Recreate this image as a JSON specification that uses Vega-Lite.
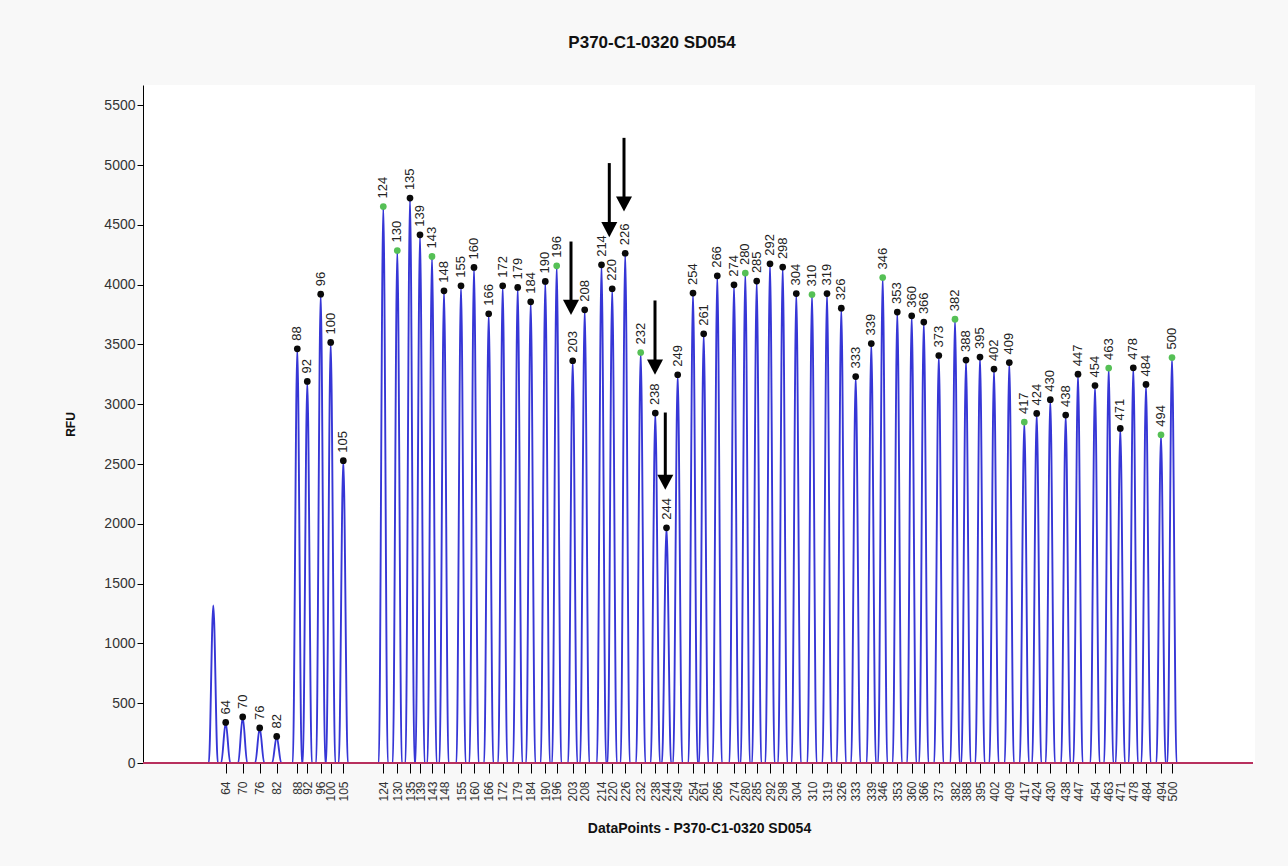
{
  "$schema": "https://vega.github.io/schema/vega-lite/v6.json",
  "width": 1112,
  "height": 678,
  "autosize": {"type": "none"},
  "padding": {"left": 143, "top": 85, "right": 33, "bottom": 103},
  "background": "#f8f8f8",
  "view": {"fill": "white", "stroke": null},
  "title": {"text": "P370-C1-0320 SD054", "font": "Liberation Sans", "fontSize": 17, "fontWeight": "bold", "color": "#111111", "offset": 33, "dx": -47},
  "datasets": {
    "trace": [
      {"dp":0,"rfu":0},
      {"dp":658,"rfu":0},{"dp":703,"rfu":1318},{"dp":748,"rfu":0},
      {"dp":782,"rfu":0},{"dp":827,"rfu":339},{"dp":872,"rfu":0},
      {"dp":952,"rfu":0},{"dp":997,"rfu":385},{"dp":1042,"rfu":0},
      {"dp":1122,"rfu":0},{"dp":1167,"rfu":293},{"dp":1212,"rfu":0},
      {"dp":1292,"rfu":0},{"dp":1337,"rfu":222},{"dp":1382,"rfu":0},
      {"dp":1498,"rfu":0},{"dp":1543,"rfu":3464},{"dp":1588,"rfu":0},
      {"dp":1598,"rfu":0},{"dp":1643,"rfu":3191},{"dp":1688,"rfu":0},
      {"dp":1732,"rfu":0},{"dp":1777,"rfu":3921},{"dp":1822,"rfu":0},
      {"dp":1832,"rfu":0},{"dp":1877,"rfu":3517},{"dp":1922,"rfu":0},
      {"dp":1958,"rfu":0},{"dp":2003,"rfu":2528},{"dp":2048,"rfu":0},
      {"dp":2358,"rfu":0},{"dp":2403,"rfu":4654},{"dp":2448,"rfu":0},
      {"dp":2498,"rfu":0},{"dp":2543,"rfu":4286},{"dp":2588,"rfu":0},
      {"dp":2625,"rfu":0},{"dp":2670,"rfu":4724},{"dp":2715,"rfu":0},
      {"dp":2725,"rfu":0},{"dp":2770,"rfu":4417},{"dp":2815,"rfu":0},
      {"dp":2845,"rfu":0},{"dp":2890,"rfu":4236},{"dp":2935,"rfu":0},
      {"dp":2965,"rfu":0},{"dp":3010,"rfu":3949},{"dp":3055,"rfu":0},
      {"dp":3135,"rfu":0},{"dp":3180,"rfu":3991},{"dp":3225,"rfu":0},
      {"dp":3265,"rfu":0},{"dp":3310,"rfu":4144},{"dp":3355,"rfu":0},
      {"dp":3412,"rfu":0},{"dp":3457,"rfu":3757},{"dp":3502,"rfu":0},
      {"dp":3552,"rfu":0},{"dp":3597,"rfu":3991},{"dp":3642,"rfu":0},
      {"dp":3702,"rfu":0},{"dp":3747,"rfu":3977},{"dp":3792,"rfu":0},
      {"dp":3832,"rfu":0},{"dp":3877,"rfu":3857},{"dp":3922,"rfu":0},
      {"dp":3978,"rfu":0},{"dp":4023,"rfu":4027},{"dp":4068,"rfu":0},
      {"dp":4092,"rfu":0},{"dp":4137,"rfu":4158},{"dp":4182,"rfu":0},
      {"dp":4252,"rfu":0},{"dp":4297,"rfu":3364},{"dp":4342,"rfu":0},
      {"dp":4372,"rfu":0},{"dp":4417,"rfu":3790},{"dp":4462,"rfu":0},
      {"dp":4540,"rfu":0},{"dp":4585,"rfu":4166},{"dp":4630,"rfu":0},
      {"dp":4647,"rfu":0},{"dp":4692,"rfu":3966},{"dp":4737,"rfu":0},
      {"dp":4777,"rfu":0},{"dp":4822,"rfu":4263},{"dp":4867,"rfu":0},
      {"dp":4932,"rfu":0},{"dp":4977,"rfu":3433},{"dp":5022,"rfu":0},
      {"dp":5078,"rfu":0},{"dp":5123,"rfu":2926},{"dp":5168,"rfu":0},
      {"dp":5190,"rfu":0},{"dp":5235,"rfu":1967},{"dp":5280,"rfu":0},
      {"dp":5302,"rfu":0},{"dp":5347,"rfu":3247},{"dp":5392,"rfu":0},
      {"dp":5455,"rfu":0},{"dp":5500,"rfu":3930},{"dp":5545,"rfu":0},
      {"dp":5562,"rfu":0},{"dp":5607,"rfu":3589},{"dp":5652,"rfu":0},
      {"dp":5698,"rfu":0},{"dp":5743,"rfu":4074},{"dp":5788,"rfu":0},
      {"dp":5865,"rfu":0},{"dp":5910,"rfu":3999},{"dp":5955,"rfu":0},
      {"dp":5978,"rfu":0},{"dp":6023,"rfu":4097},{"dp":6068,"rfu":0},
      {"dp":6092,"rfu":0},{"dp":6137,"rfu":4030},{"dp":6182,"rfu":0},
      {"dp":6225,"rfu":0},{"dp":6270,"rfu":4175},{"dp":6315,"rfu":0},
      {"dp":6352,"rfu":0},{"dp":6397,"rfu":4147},{"dp":6442,"rfu":0},
      {"dp":6488,"rfu":0},{"dp":6533,"rfu":3926},{"dp":6578,"rfu":0},
      {"dp":6645,"rfu":0},{"dp":6690,"rfu":3918},{"dp":6735,"rfu":0},
      {"dp":6795,"rfu":0},{"dp":6840,"rfu":3926},{"dp":6885,"rfu":0},
      {"dp":6938,"rfu":0},{"dp":6983,"rfu":3804},{"dp":7028,"rfu":0},
      {"dp":7082,"rfu":0},{"dp":7127,"rfu":3232},{"dp":7172,"rfu":0},
      {"dp":7238,"rfu":0},{"dp":7283,"rfu":3508},{"dp":7328,"rfu":0},
      {"dp":7352,"rfu":0},{"dp":7397,"rfu":4060},{"dp":7442,"rfu":0},
      {"dp":7498,"rfu":0},{"dp":7543,"rfu":3771},{"dp":7588,"rfu":0},
      {"dp":7642,"rfu":0},{"dp":7687,"rfu":3740},{"dp":7732,"rfu":0},
      {"dp":7763,"rfu":0},{"dp":7808,"rfu":3687},{"dp":7853,"rfu":0},
      {"dp":7913,"rfu":0},{"dp":7958,"rfu":3408},{"dp":8003,"rfu":0},
      {"dp":8075,"rfu":0},{"dp":8120,"rfu":3712},{"dp":8165,"rfu":0},
      {"dp":8185,"rfu":0},{"dp":8230,"rfu":3370},{"dp":8275,"rfu":0},
      {"dp":8325,"rfu":0},{"dp":8370,"rfu":3395},{"dp":8415,"rfu":0},
      {"dp":8465,"rfu":0},{"dp":8510,"rfu":3294},{"dp":8555,"rfu":0},
      {"dp":8618,"rfu":0},{"dp":8663,"rfu":3349},{"dp":8708,"rfu":0},
      {"dp":8768,"rfu":0},{"dp":8813,"rfu":2851},{"dp":8858,"rfu":0},
      {"dp":8892,"rfu":0},{"dp":8937,"rfu":2923},{"dp":8982,"rfu":0},
      {"dp":9028,"rfu":0},{"dp":9073,"rfu":3038},{"dp":9118,"rfu":0},
      {"dp":9182,"rfu":0},{"dp":9227,"rfu":2910},{"dp":9272,"rfu":0},
      {"dp":9305,"rfu":0},{"dp":9350,"rfu":3252},{"dp":9395,"rfu":0},
      {"dp":9475,"rfu":0},{"dp":9520,"rfu":3157},{"dp":9565,"rfu":0},
      {"dp":9612,"rfu":0},{"dp":9657,"rfu":3303},{"dp":9702,"rfu":0},
      {"dp":9728,"rfu":0},{"dp":9773,"rfu":2798},{"dp":9818,"rfu":0},
      {"dp":9858,"rfu":0},{"dp":9903,"rfu":3305},{"dp":9948,"rfu":0},
      {"dp":9985,"rfu":0},{"dp":10030,"rfu":3166},{"dp":10075,"rfu":0},
      {"dp":10135,"rfu":0},{"dp":10180,"rfu":2745},{"dp":10225,"rfu":0},
      {"dp":10245,"rfu":0},{"dp":10290,"rfu":3391},{"dp":10335,"rfu":0},
      {"dp":11100,"rfu":0}
    ],
    "base": [{"dp":0,"rfu":0},{"dp":11100,"rfu":0}],
    "peaks": [
      {"size":64,"dp":827,"rfu":339,"std":"black"},
      {"size":70,"dp":997,"rfu":385,"std":"black"},
      {"size":76,"dp":1167,"rfu":293,"std":"black"},
      {"size":82,"dp":1337,"rfu":222,"std":"black"},
      {"size":88,"dp":1543,"rfu":3464,"std":"black"},
      {"size":92,"dp":1643,"rfu":3191,"std":"black"},
      {"size":96,"dp":1777,"rfu":3921,"std":"black"},
      {"size":100,"dp":1877,"rfu":3517,"std":"black"},
      {"size":105,"dp":2003,"rfu":2528,"std":"black"},
      {"size":124,"dp":2403,"rfu":4654,"std":"green"},
      {"size":130,"dp":2543,"rfu":4286,"std":"green"},
      {"size":135,"dp":2670,"rfu":4724,"std":"black"},
      {"size":139,"dp":2770,"rfu":4417,"std":"black"},
      {"size":143,"dp":2890,"rfu":4236,"std":"green"},
      {"size":148,"dp":3010,"rfu":3949,"std":"black"},
      {"size":155,"dp":3180,"rfu":3991,"std":"black"},
      {"size":160,"dp":3310,"rfu":4144,"std":"black"},
      {"size":166,"dp":3457,"rfu":3757,"std":"black"},
      {"size":172,"dp":3597,"rfu":3991,"std":"black"},
      {"size":179,"dp":3747,"rfu":3977,"std":"black"},
      {"size":184,"dp":3877,"rfu":3857,"std":"black"},
      {"size":190,"dp":4023,"rfu":4027,"std":"black"},
      {"size":196,"dp":4137,"rfu":4158,"std":"green"},
      {"size":203,"dp":4297,"rfu":3364,"std":"black"},
      {"size":208,"dp":4417,"rfu":3790,"std":"black"},
      {"size":214,"dp":4585,"rfu":4166,"std":"black"},
      {"size":220,"dp":4692,"rfu":3966,"std":"black"},
      {"size":226,"dp":4822,"rfu":4263,"std":"black"},
      {"size":232,"dp":4977,"rfu":3433,"std":"green"},
      {"size":238,"dp":5123,"rfu":2926,"std":"black"},
      {"size":244,"dp":5235,"rfu":1967,"std":"black"},
      {"size":249,"dp":5347,"rfu":3247,"std":"black"},
      {"size":254,"dp":5500,"rfu":3930,"std":"black"},
      {"size":261,"dp":5607,"rfu":3589,"std":"black"},
      {"size":266,"dp":5743,"rfu":4074,"std":"black"},
      {"size":274,"dp":5910,"rfu":3999,"std":"black"},
      {"size":280,"dp":6023,"rfu":4097,"std":"green"},
      {"size":285,"dp":6137,"rfu":4030,"std":"black"},
      {"size":292,"dp":6270,"rfu":4175,"std":"black"},
      {"size":298,"dp":6397,"rfu":4147,"std":"black"},
      {"size":304,"dp":6533,"rfu":3926,"std":"black"},
      {"size":310,"dp":6690,"rfu":3918,"std":"green"},
      {"size":319,"dp":6840,"rfu":3926,"std":"black"},
      {"size":326,"dp":6983,"rfu":3804,"std":"black"},
      {"size":333,"dp":7127,"rfu":3232,"std":"black"},
      {"size":339,"dp":7283,"rfu":3508,"std":"black"},
      {"size":346,"dp":7397,"rfu":4060,"std":"green"},
      {"size":353,"dp":7543,"rfu":3771,"std":"black"},
      {"size":360,"dp":7687,"rfu":3740,"std":"black"},
      {"size":366,"dp":7808,"rfu":3687,"std":"black"},
      {"size":373,"dp":7958,"rfu":3408,"std":"black"},
      {"size":382,"dp":8120,"rfu":3712,"std":"green"},
      {"size":388,"dp":8230,"rfu":3370,"std":"black"},
      {"size":395,"dp":8370,"rfu":3395,"std":"black"},
      {"size":402,"dp":8510,"rfu":3294,"std":"black"},
      {"size":409,"dp":8663,"rfu":3349,"std":"black"},
      {"size":417,"dp":8813,"rfu":2851,"std":"green"},
      {"size":424,"dp":8937,"rfu":2923,"std":"black"},
      {"size":430,"dp":9073,"rfu":3038,"std":"black"},
      {"size":438,"dp":9227,"rfu":2910,"std":"black"},
      {"size":447,"dp":9350,"rfu":3252,"std":"black"},
      {"size":454,"dp":9520,"rfu":3157,"std":"black"},
      {"size":463,"dp":9657,"rfu":3303,"std":"green"},
      {"size":471,"dp":9773,"rfu":2798,"std":"black"},
      {"size":478,"dp":9903,"rfu":3305,"std":"black"},
      {"size":484,"dp":10030,"rfu":3166,"std":"black"},
      {"size":494,"dp":10180,"rfu":2745,"std":"green"},
      {"size":500,"dp":10290,"rfu":3391,"std":"green"}
    ],
    "arrows": [
      {"dp":4280,"top":4361,"head":3811},
      {"dp":4663,"top":5017,"head":4461},
      {"dp":4810,"top":5228,"head":4675},
      {"dp":5120,"top":3868,"head":3310},
      {"dp":5223,"top":2931,"head":2348}
    ]
  },
  "layer": [
    {
      "data": {"name": "trace"},
      "mark": {"type": "line", "color": "#3636d6", "strokeWidth": 1.9, "interpolate": "monotone"},
      "encoding": {
        "x": {
          "field": "dp", "type": "quantitative",
          "scale": {"domain": [0, 11120], "nice": false, "zero": false},
          "axis": {
            "title": "DataPoints - P370-C1-0320 SD054",
            "titleFont": "Liberation Sans", "titleFontSize": 14, "titleFontWeight": "bold", "titleColor": "#111111", "titlePadding": 20,
            "tickCount": 500,
            "values": [827,997,1167,1337,1543,1643,1777,1877,2003,2403,2543,2670,2770,2890,3010,3180,3310,3457,3597,3747,3877,4023,4137,4297,4417,4585,4692,4822,4977,5123,5235,5347,5500,5607,5743,5910,6023,6137,6270,6397,6533,6690,6840,6983,7127,7283,7397,7543,7687,7808,7958,8120,8230,8370,8510,8663,8813,8937,9073,9227,9350,9520,9657,9773,9903,10030,10180,10290],
            "labelExpr": "[64,70,76,82,88,92,96,100,105,124,130,135,139,143,148,155,160,166,172,179,184,190,196,203,208,214,220,226,232,238,244,249,254,261,266,274,280,285,292,298,304,310,319,326,333,339,346,353,360,366,373,382,388,395,402,409,417,424,430,438,447,454,463,471,478,484,494,500][indexof([827,997,1167,1337,1543,1643,1777,1877,2003,2403,2543,2670,2770,2890,3010,3180,3310,3457,3597,3747,3877,4023,4137,4297,4417,4585,4692,4822,4977,5123,5235,5347,5500,5607,5743,5910,6023,6137,6270,6397,6533,6690,6840,6983,7127,7283,7397,7543,7687,7808,7958,8120,8230,8370,8510,8663,8813,8937,9073,9227,9350,9520,9657,9773,9903,10030,10180,10290], datum.value)]",
            "labelAngle": 270, "labelFont": "Liberation Sans", "labelFontSize": 12, "labelColor": "#333333",
            "labelPadding": 8, "labelOverlap": false, "labelFlush": false,
            "tickColor": "#000000", "tickSize": 10, "domain": false, "grid": false
          }
        },
        "y": {
          "field": "rfu", "type": "quantitative",
          "scale": {"domain": [0, 5670], "nice": false},
          "axis": {
            "title": "RFU", "titleFont": "Liberation Sans", "titleFontSize": 12, "titleFontWeight": "bold", "titleColor": "#111111", "titlePadding": 26,
            "values": [0,500,1000,1500,2000,2500,3000,3500,4000,4500,5000,5500],
            "tickCount": 50,
            "format": "d",
            "labelFont": "Liberation Sans", "labelFontSize": 14, "labelColor": "#333333", "labelPadding": 2,
            "tickColor": "#000000", "tickSize": 6, "domainColor": "#000000", "grid": false
          }
        }
      }
    },
    {
      "data": {"name": "base"},
      "mark": {"type": "line", "color": "#b8305e", "strokeWidth": 2},
      "encoding": {
        "x": {"field": "dp", "type": "quantitative"},
        "y": {"field": "rfu", "type": "quantitative"}
      }
    },
    {
      "data": {"name": "peaks"},
      "mark": {"type": "circle", "size": 45, "opacity": 1},
      "encoding": {
        "x": {"field": "dp", "type": "quantitative"},
        "y": {"field": "rfu", "type": "quantitative"},
        "color": {"field": "std", "type": "nominal", "scale": {"domain": ["black", "green"], "range": ["#0a0a0a", "#55c055"]}, "legend": null}
      }
    },
    {
      "data": {"name": "peaks"},
      "mark": {"type": "text", "angle": 270, "align": "left", "baseline": "middle", "dx": 8, "font": "Liberation Sans", "fontSize": 13, "color": "#222222"},
      "encoding": {
        "x": {"field": "dp", "type": "quantitative"},
        "y": {"field": "rfu", "type": "quantitative"},
        "text": {"field": "size", "type": "nominal"}
      }
    },
    {
      "data": {"name": "arrows"},
      "mark": {"type": "rule", "color": "#000000", "strokeWidth": 3},
      "encoding": {
        "x": {"field": "dp", "type": "quantitative"},
        "y": {"field": "top", "type": "quantitative"},
        "y2": {"field": "head"}
      }
    },
    {
      "data": {"name": "arrows"},
      "mark": {"type": "point", "shape": "M-1,-0.95L1,-0.95L0,0.95Z", "size": 256, "filled": true, "color": "#000000", "opacity": 1},
      "encoding": {
        "x": {"field": "dp", "type": "quantitative"},
        "y": {"field": "head", "type": "quantitative"}
      }
    }
  ]
}
